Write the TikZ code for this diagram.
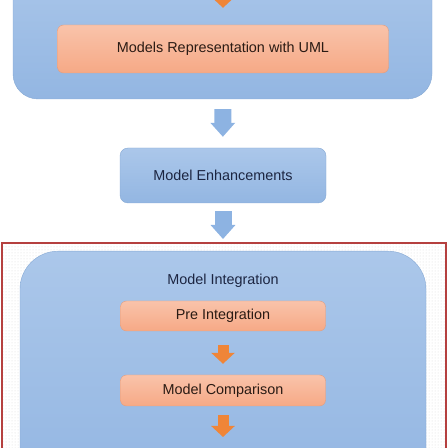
\documentclass[tikz,border=0pt]{standalone}
\usepackage{fontspec}
\setmainfont{Liberation Sans}
\usetikzlibrary{arrows.meta,patterns}
\definecolor{panetop}{HTML}{ABC7EA}
\definecolor{panebot}{HTML}{93B6E2}
\definecolor{paneedge}{HTML}{86A9D4}
\definecolor{steptop}{HTML}{F9C3AA}
\definecolor{stepbot}{HTML}{F6A986}
\definecolor{stepedge}{HTML}{E29D7E}
\definecolor{steptext}{HTML}{2A1B14}
\definecolor{navy}{HTML}{1C2541}
\definecolor{bluearr}{HTML}{8DB3E2}
\definecolor{orangearr}{HTML}{EF8538}
\definecolor{frame}{HTML}{B5403F}
\begin{document}
\begin{tikzpicture}[x=1pt,y=1pt,font=\fontsize{14.4}{17}\selectfont,
 pane/.style={draw=paneedge,top color=panetop,bottom color=panebot,rounded corners=#1,inner sep=0pt,text=navy},
 stepbox/.style={draw=stepedge,top color=steptop,bottom color=stepbot,rounded corners=6pt,text=steptext},
 barr/.style={draw=bluearr,line width=17pt,-{Triangle[width=24pt,length=14pt]}},
 oarr/.style={draw=orangearr,line width=11pt,-{Triangle[width=23pt,length=11pt]}}]
\clip (0,0) rectangle (448,448);
% upper part
\node[pane=25pt,minimum width=419pt,minimum height=139pt] (top) at (222.5,418.5) {};
\node[stepbox,minimum width=331pt,minimum height=48pt] (uml) at (223,399) {Models Representation with UML};
\node[pane=8pt,minimum width=206pt,minimum height=55pt] (enh) at (223,272.5) {Model Enhancements};
% integration frame
\draw[frame,line width=1.8pt,pattern=dots,pattern color=gray!30] (2,205) rectangle (446,-20);
\node[pane=38pt,minimum width=406pt,minimum height=240pt,anchor=north] (integ) at (223,197) {};
\node[text=navy] (title) at (223,167) {Model Integration};
\node[stepbox,minimum width=205pt,minimum height=30pt] (pre) at (223,132) {Pre Integration};
\node[stepbox,minimum width=205pt,minimum height=31pt] (comp) at (223,57.5) {Model Comparison};
\coordinate (prev) at (223,470);
\coordinate (next) at (223,11);
\foreach \a/\b/\s/\e in {top/enh/10pt/11pt, enh/integ/8pt/12pt}
 \draw[barr,shorten <=\s,shorten >=\e] (\a) -- (\b);
\foreach \a/\b/\s/\e in {prev/uml/0pt/17pt, pre/comp/14pt/11pt, comp/next/9pt/0pt}
 \draw[oarr,shorten <=\s,shorten >=\e] (\a) -- (\b);
\end{tikzpicture}
\end{document}
